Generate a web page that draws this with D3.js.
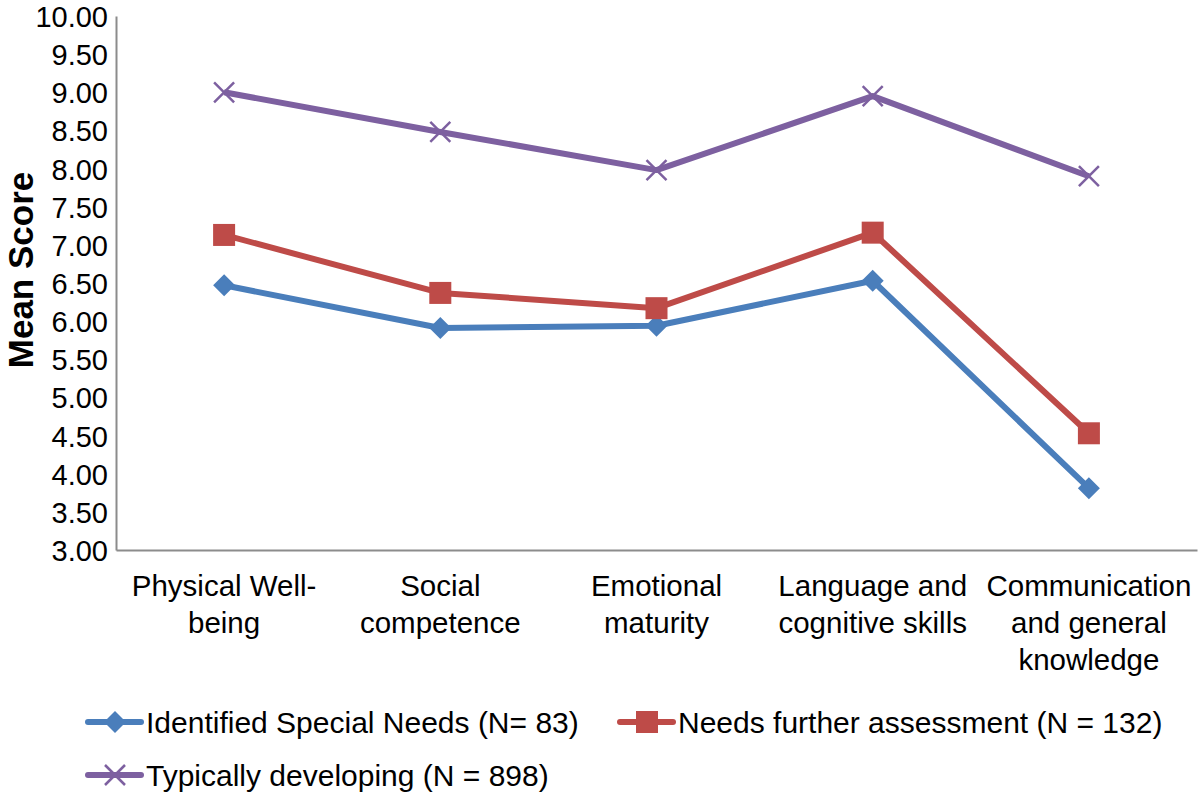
<!DOCTYPE html>
<html><head><meta charset="utf-8">
<script src="https://cdn.jsdelivr.net/npm/d3@7"></script>
<style>body{margin:0;background:#fff}svg{display:block}text{font-family:"Liberation Sans",Arial,sans-serif;fill:#000}</style>
</head><body><svg id="c" width="1200" height="793"></svg>
<script>
const categories = [["Physical Well-","being"],["Social","competence"],["Emotional","maturity"],["Language and","cognitive skills"],["Communication","and general","knowledge"]];
const seriesNames = ["Identified Special Needs (N= 83)","Needs further assessment (N = 132)","Typically developing (N = 898)"];
const specialNeeds = [6.47, 5.91, 5.94, 6.53, 3.81];
const furtherAssessment = [7.13, 6.37, 6.17, 7.16, 4.53];
const typical = [9.00, 8.48, 7.98, 8.95, 7.90];
const yTicks = [3,3.5,4,4.5,5,5.5,6,6.5,7,7.5,8,8.5,9,9.5,10];
const colors = ["#4A7EBB","#BE4B48","#7D60A0"];
const markers = ["diamond","square","x"];

const svg = d3.select("#c");
const L = 116, R = 1197, T = 16, B = 550;
const x = d3.scaleBand().domain(d3.range(categories.length)).range([L, R]);
const y = d3.scaleLinear().domain([3,10]).range([B, T]);

// axes
const yAxis = svg.append("g").attr("transform",`translate(${L},0)`)
  .call(d3.axisLeft(y).tickValues(yTicks).tickSize(0).tickPadding(8).tickFormat(d3.format(".2f")));
yAxis.select(".domain").attr("stroke","#8c8c8c").attr("stroke-width",2);
yAxis.selectAll("text").style("font-size","29px").attr("dy","0.36em");

const xAxis = svg.append("g").attr("transform",`translate(0,${B})`)
  .call(d3.axisBottom(x).tickSize(0).tickFormat(""));
xAxis.select(".domain").attr("stroke","#8c8c8c").attr("stroke-width",2);
xAxis.selectAll(".tick").each(function(d){
  const t = d3.select(this).append("text").attr("text-anchor","middle").style("font-size","29.5px");
  categories[d].forEach((s,i)=> t.append("tspan").attr("x",0).attr("y",46+i*37).text(s));
});

svg.append("text").attr("transform","translate(33,270) rotate(-90)").attr("text-anchor","middle")
  .style("font-size","35px").style("font-weight","bold").text("Mean Score");

function drawMarker(g, type, color, cx, cy){
  if(type==="diamond"){
    g.append("path").attr("d",`M${cx},${cy-11}L${cx+11},${cy}L${cx},${cy+11}L${cx-11},${cy}Z`).attr("fill",color);
  } else if(type==="square"){
    g.append("rect").attr("x",cx-11).attr("y",cy-11).attr("width",22).attr("height",22).attr("fill",color);
  } else {
    g.append("path").attr("d",`M${cx-10},${cy-10}L${cx+10},${cy+10}M${cx-10},${cy+10}L${cx+10},${cy-10}`)
      .attr("stroke",color).attr("stroke-width",2.5).attr("fill","none");
  }
}

const data = [specialNeeds, furtherAssessment, typical];
const line = d3.line().x((d,i)=>x(i)+x.bandwidth()/2).y(d=>y(d));
data.forEach((vals,k)=>{
  const g = svg.append("g");
  g.append("path").attr("d",line(vals)).attr("fill","none").attr("stroke",colors[k]).attr("stroke-width",6).attr("stroke-linejoin","round");
  vals.forEach((v,i)=>drawMarker(g, markers[k], colors[k], x(i)+x.bandwidth()/2, y(v)));
});

// legend
const legendPos = [[88,722],[620,722],[88,775]];
seriesNames.forEach((n,k)=>{
  const [lx,ly] = legendPos[k];
  const g = svg.append("g");
  g.append("line").attr("x1",lx).attr("x2",lx+53).attr("y1",ly).attr("y2",ly).attr("stroke",colors[k]).attr("stroke-width",6).attr("stroke-linecap","round");
  drawMarker(g, markers[k], colors[k], lx+27, ly);
  g.append("text").attr("x",lx+58).attr("y",ly).attr("dy","0.36em").style("font-size","30px").text(n);
});
</script></body></html>
